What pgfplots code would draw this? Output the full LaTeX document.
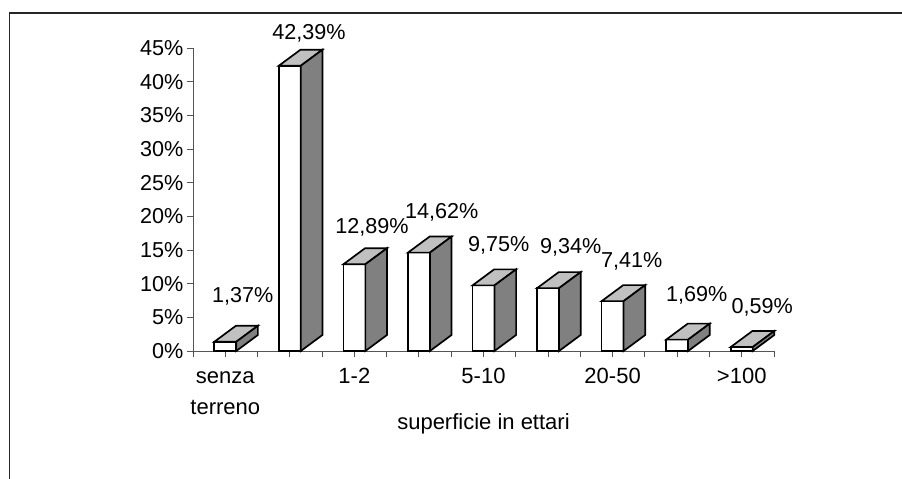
\documentclass[border=0pt]{standalone}
\usepackage{fontspec}
\setmainfont{Liberation Sans}
\usepackage{pgfplots}
\pgfplotsset{compat=1.18}
\definecolor{topface}{HTML}{C0C0C0}
\definecolor{sideface}{HTML}{808080}
\definecolor{axisgray}{HTML}{555555}
\newcommand{\chartfont}{\fontsize{21.6}{30}\selectfont}
\newcommand{\labelfont}{\fontsize{22}{31}\selectfont}

% one box: category centre, value
\newcommand{\boxbar}[2]{%
  \pgfmathsetmacro{\xa}{#1-0.17}%
  \pgfmathsetmacro{\xb}{#1+0.17}%
  \pgfmathsetmacro{\xc}{#1+0.505}%
  \pgfmathsetmacro{\xd}{#1+0.165}%
  \pgfmathsetmacro{\yt}{#2+2.38}%
  \addplot[fill=white, draw=black, line width=1.7pt, line join=miter]
    coordinates {(\xa,0) (\xb,0) (\xb,#2) (\xa,#2)} -- cycle;
  \addplot[fill=topface, draw=black, line width=1.7pt, line join=miter]
    coordinates {(\xa,#2) (\xb,#2) (\xc,\yt) (\xd,\yt)} -- cycle;
  \addplot[fill=sideface, draw=black, line width=1.7pt, line join=miter]
    coordinates {(\xb,0) (\xc,2.38) (\xc,\yt) (\xb,#2)} -- cycle;
}

\begin{document}
\begin{tikzpicture}
  \useasboundingbox (0pt,0pt) rectangle (902pt,479pt);
  \draw[line width=1.4pt, color=black!85] (9.7pt,0pt) -- (9.7pt,466pt) -- (902pt,466pt);
  \begin{axis}[
    at={(193pt,128pt)},
    anchor=south west,
    scale only axis,
    width=581pt,
    height=302.85pt,
    xmin=0, xmax=9,
    ymin=0, ymax=45,
    clip=false,
    axis lines=left,
    axis line style={-, color=axisgray, line width=0.9pt},
    tick style={color=axisgray, line width=0.9pt},
    major tick length=6pt,
    tick align=outside,
    xtick={0,0.5,...,9},
    xticklabels={,{\strut senza\\terreno},,,,{\strut 1-2},,,,{\strut 5-10},,,,{\strut 20-50},,,,{\strut >100},},
    ytick={0,5,...,45},
    yticklabels={0\%,5\%,10\%,15\%,20\%,25\%,30\%,35\%,40\%,45\%},
    xticklabel style={align=center, font=\labelfont, inner sep=0pt, yshift=-4.5pt},
    yticklabel style={font=\chartfont, inner sep=0pt, xshift=-3.5pt},
    xlabel={superficie in ettari},
    xlabel style={font=\labelfont, at={(axis description cs:0.5,0)}, anchor=center, inner sep=0pt, yshift=-73pt},
  ]
    \boxbar{0.5}{1.37}
    \boxbar{1.5}{42.39}
    \boxbar{2.5}{12.89}
    \boxbar{3.5}{14.62}
    \boxbar{4.5}{9.75}
    \boxbar{5.5}{9.34}
    \boxbar{6.5}{7.41}
    \boxbar{7.5}{1.69}
    \boxbar{8.5}{0.59}

    \addplot[only marks, mark=none, point meta=explicit symbolic,
      nodes near coords={\pgfplotspointmeta\%},
      every node near coord/.style={anchor=center, inner sep=0pt, yshift=-0.8pt, font=\chartfont}]
      table[meta=label] {
        x y label
        0.769 8.22 1,37
        1.796 47.3 42,39
        2.771 18.42 12,89
        3.854 20.7 14,62
        4.737 15.75 9,75
        5.851 15.5 9,34
        6.796 13.37 7,41
        7.802 8.32 1,69
        8.819 6.54 0,59
      };
  \end{axis}
\end{tikzpicture}
\end{document}
